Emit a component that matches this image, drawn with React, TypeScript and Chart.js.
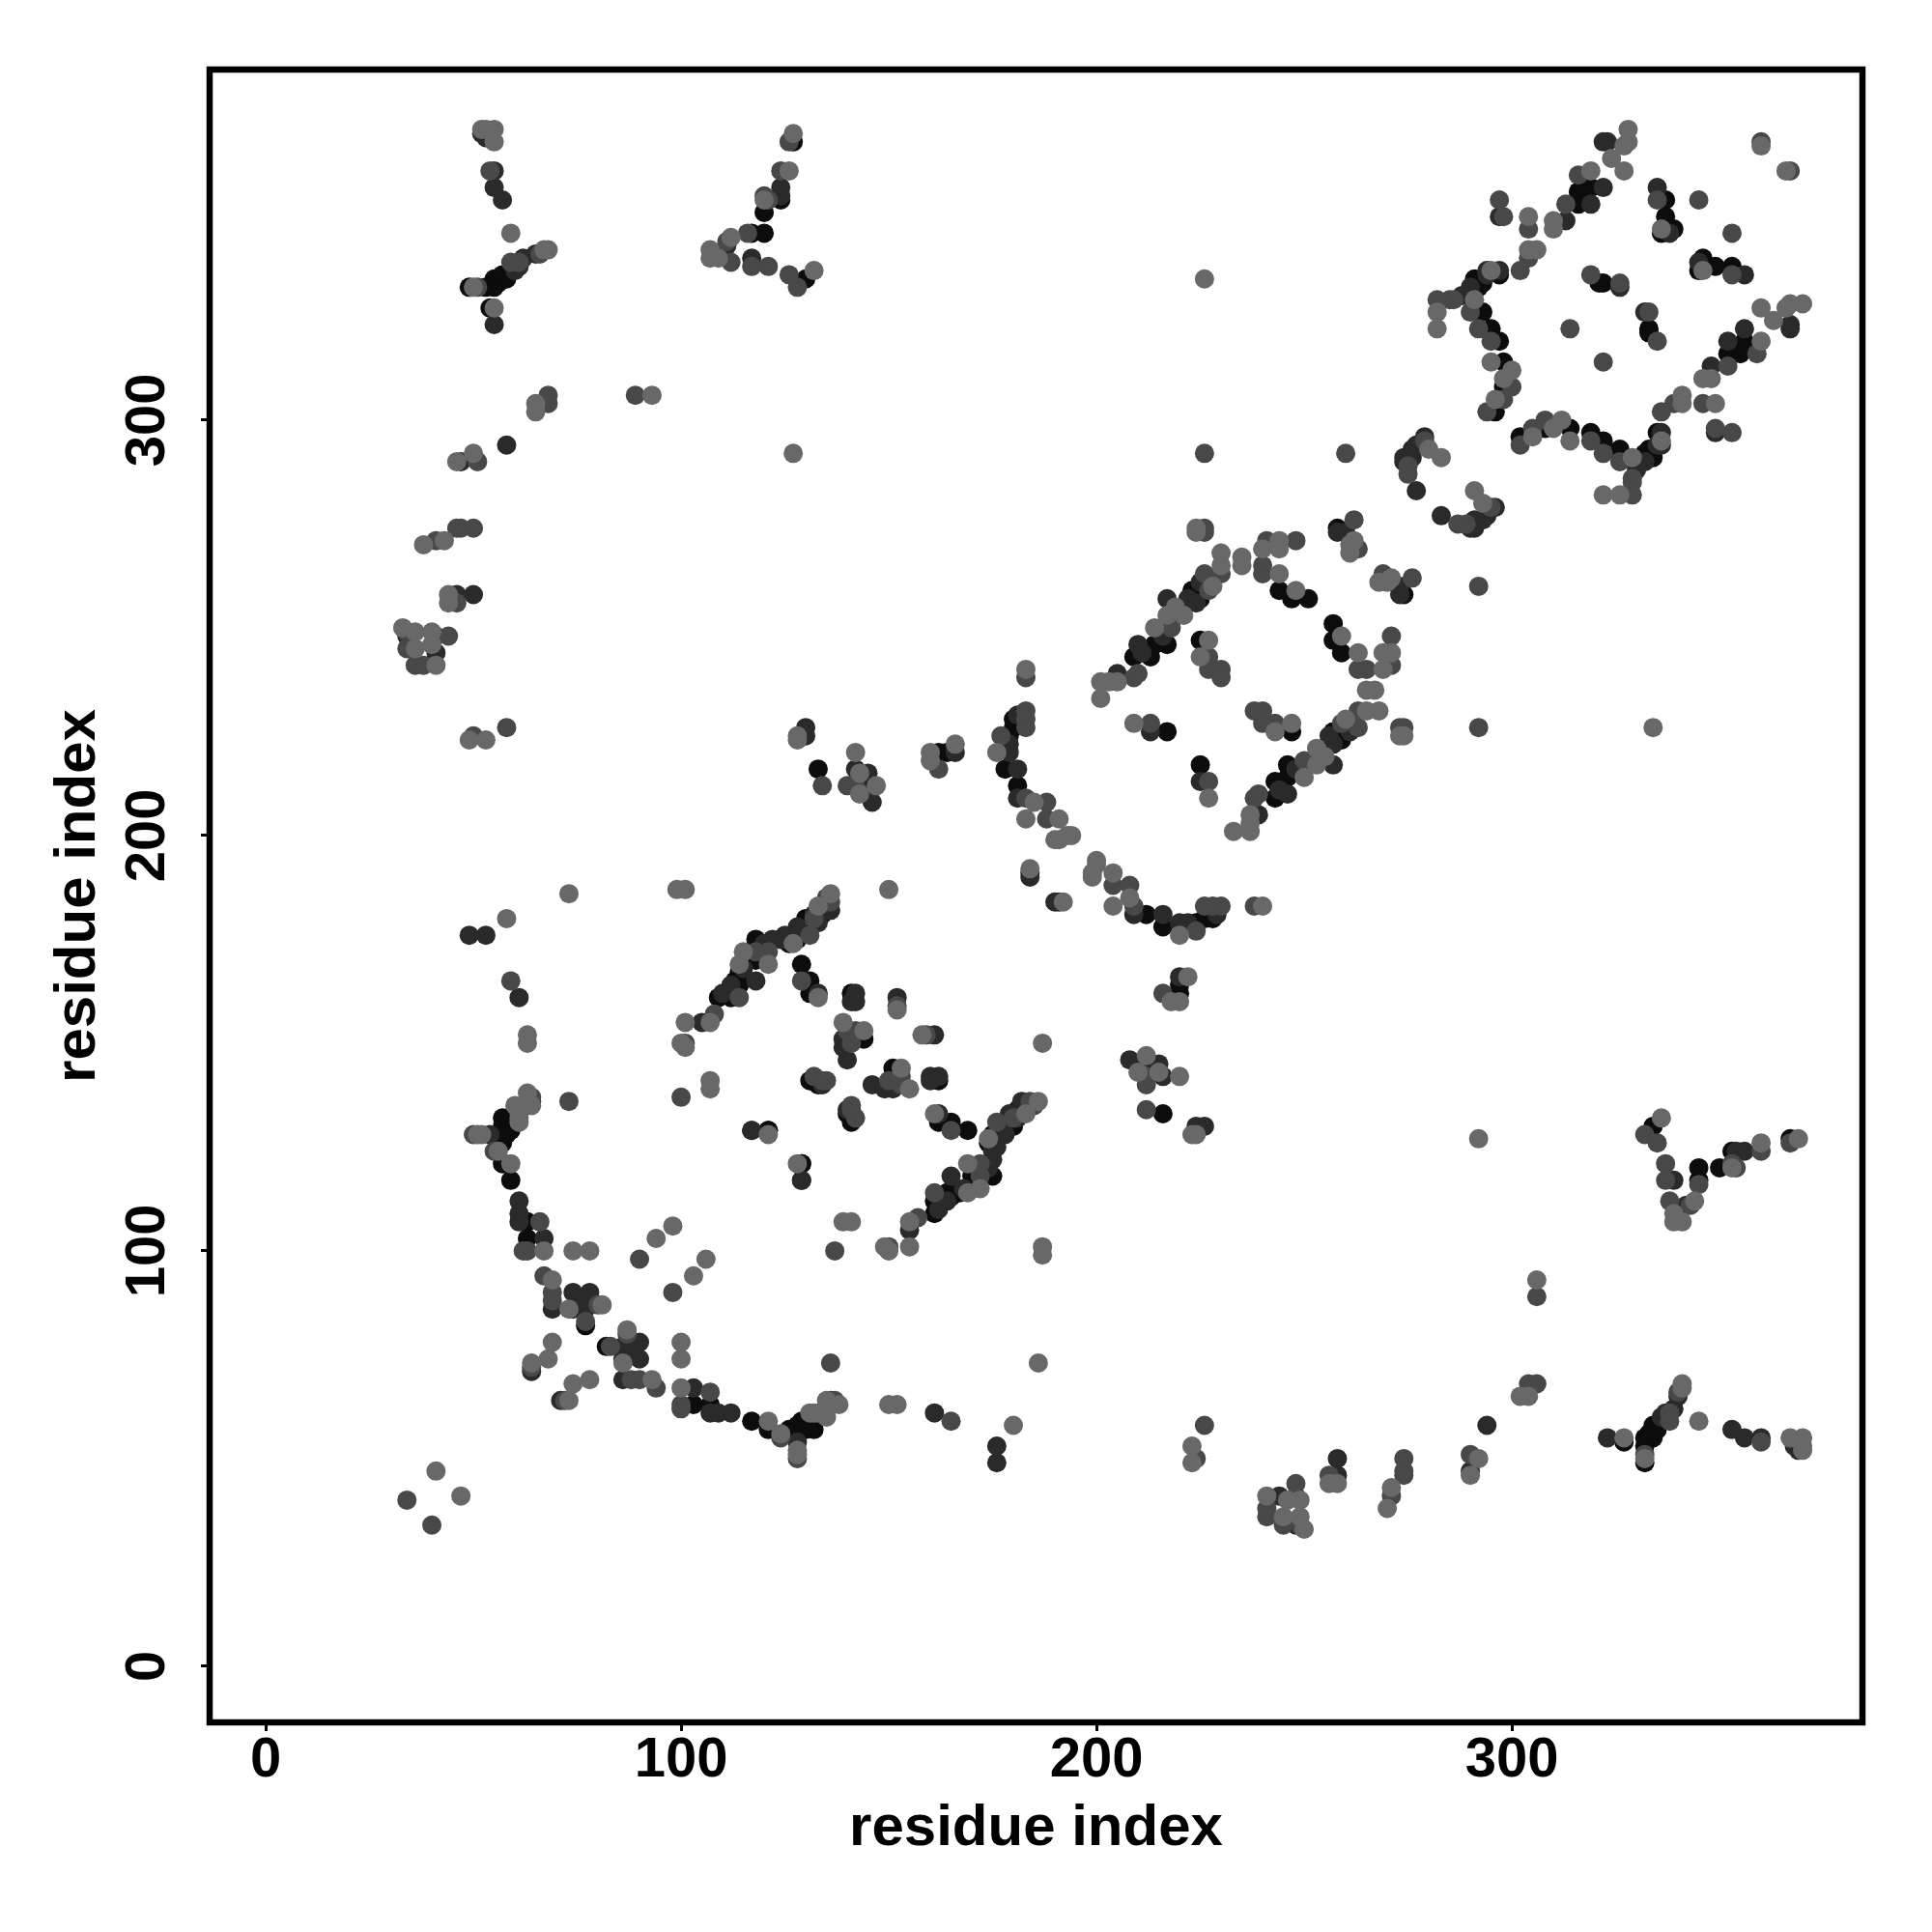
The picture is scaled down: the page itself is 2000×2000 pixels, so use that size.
import React, { useEffect, useRef } from "react";
import { Chart, registerables } from "chart.js";

Chart.register(...registerables);

const axisTitle = "residue index";
const tickValues = [0, 100, 200, 300];

// Contacts as [i, j] with i < j; the map is symmetric, each is also shown as [j, i].
const blackContacts: number[][] = [
  [58,334],[55,334],[55,332],[53,332],[49,332],[54,327],[127,367],[124,353],[120,350],[120,345],[117,345],[130,334],
  [57,132],[59,129],[57,130],[57,126],[57,121],[63,107],[63,103],[77,82],[56,126],[58,128],[58,131],[59,117],
  [134,181],[130,180],[131,178],[127,176],[128,175],[126,174],[118,175],[118,170],[114,167],[114,164],[109,161],[112,161],
  [129,169],[131,165],[131,162],[141,162],[144,151],[131,141],[133,140],[129,121],[121,129],[129,117],
  [133,216],[146,212],[162,220],[164,220],
  [180,226],[180,228],[179,224],[178,216],[181,212],[209,243],[213,243],[214,246],[217,246],[223,259],[225,257],[244,259],[247,257],[251,257],[225,247],[217,225],
  [258,274],
  [292,332],[291,334],[293,333],[297,335],[293,326],[295,322],[297,319],[298,314],[298,308],[296,302],[316,352],[316,355],[319,356],[322,333],[321,333],[337,353],[337,349],[339,346],[336,345],
  [56,333],[57,335],[59,336],[129,177],[116,171],[113,165],[224,258],[292,333],
];

const darkContacts: number[][] = [
  [52,369],[53,368],[55,360],[55,356],[57,353],[65,340],[60,336],[55,323],[124,356],[124,354],[117,339],[111,342],
  [58,294],[47,290],[50,258],[46,258],[41,244],[34,248],
  [49,176],[53,176],[61,161],[61,112],[61,109],[61,107],[67,103],[74,90],[78,90],[69,86],[77,88],[74,86],[77,86],[64,136],[54,128],[64,71],
  [136,182],[133,179],[128,177],[125,176],[122,175],[118,165],[112,164],[105,155],
  [133,162],[142,162],[142,160],[141,160],[152,161],[139,151],[140,146],[139,149],[134,140],
  [117,129],[130,226],[130,224],[142,216],[145,215],[143,211],[146,208],[166,220],
  [181,229],[179,222],[179,220],[181,216],[181,209],[205,239],[210,246],[217,257],[222,257],[225,261],[213,225],[184,191],[184,190],
  [274,291],[274,290],[276,293],[276,291],[277,294],[279,296],[277,283],[258,273],[260,273],
  [323,367],[322,367],[322,356],[319,352],[313,348],[297,336],[294,335],[290,332],[297,349],[335,356],[338,345],[326,332],
  [60,337],[61,337],[62,339],[128,178],[132,181],[124,175],[120,174],[115,168],[110,162],[216,248],[211,244],[224,256],[294,336],[288,330],
];

const midContacts: number[][] = [
  [54,360],[66,340],[61,338],[59,338],[51,332],[126,367],[124,360],[120,354],[121,353],[116,345],[111,343],[112,338],[117,337],[121,337],[126,335],[128,332],
  [68,306],[68,304],[51,290],[50,274],[46,274],[47,274],[41,271],[46,256],[44,248],[41,248],[34,249],[34,245],[36,241],[38,241],[58,226],[50,224],
  [64,137],[73,136],[100,137],[101,150],[89,306],[59,165],
  [55,124],[50,128],[66,107],[63,100],[62,100],[67,94],[69,90],[69,88],[80,87],[77,83],[64,72],[90,98],[34,40],
  [136,184],[135,185],[132,180],[131,176],[121,172],[118,172],[114,161],[108,157],[129,165],[142,153],[140,153],[141,150],[132,142],[134,141],[135,141],[152,159],
  [134,212],[140,212],[142,212],[162,216],
  [183,238],[183,230],[183,228],[177,224],[183,209],[188,208],[188,204],[209,238],[210,239],[218,250],[227,259],[226,263],[230,263],[240,265],[240,263],[241,271],[248,271],[227,243],[227,240],[230,240],[230,238],[213,227],[183,226],[226,273],[226,274],
  [260,292],[226,292],[279,295],[275,289],[275,287],[262,276],[263,269],
  [286,329],[285,329],[282,329],[290,326],[292,322],[295,319],[297,353],[298,349],[304,346],[304,339],[302,336],[316,359],[313,352],[319,335],[326,333],[335,353],[345,353],[300,308],[298,305],[294,302],[360,367],[314,322],
];

const lightContacts: number[][] = [
  [53,370],[52,370],[55,370],[55,367],[59,345],[68,341],[67,341],[50,332],[55,327],
  [127,369],[126,360],[120,353],[112,344],[107,341],[107,339],[109,339],[132,336],
  [65,304],[65,302],[50,292],[46,290],[43,271],[38,270],[44,258],[44,256],[40,249],[33,250],[36,249],[36,245],[41,241],[40,246],[53,223],[49,223],
  [58,180],[73,186],[63,152],[63,150],[63,138],
  [60,135],[61,133],[52,128],[51,128],[59,121],[67,100],[74,100],[78,100],[98,106],[94,103],[69,93],[81,87],[73,86],[69,78],[68,74],[64,73],[41,47],[56,124],[61,132],[61,131],[64,135],
  [99,187],[101,187],[150,187],[136,186],[133,183],[127,174],[115,172],[121,169],[114,169],[107,155],[101,155],[100,150],[101,149],[107,141],[107,139],
  [139,155],[144,153],[133,161],[152,158],[121,128],[127,292],[93,306],[128,224],[128,223],[142,220],[143,215],[147,212],[160,220],[160,218],[166,222],[143,210],
  [184,192],
  [183,240],[176,220],[185,208],[183,204],[191,204],[190,199],[191,199],[193,200],[194,200],[201,237],[201,233],[203,237],[205,237],[214,250],[217,253],[221,253],[219,255],[228,260],[230,268],[230,265],[235,265],[235,267],[244,263],[248,259],[240,269],[244,269],[244,271],[227,247],[225,243],[209,227],[224,273],[224,274],
  [226,334],[283,291],[280,293],[262,271],[261,268],[261,270],
  [328,370],[328,367],[327,366],[324,363],[327,360],[319,360],[310,348],[310,346],[304,349],[306,341],[304,341],[295,336],[282,326],[282,322],[291,329],[295,314],[300,312],[298,310],[296,305],[360,366],[336,346],
];

const mirrored = (pairs: number[][]) => [
  ...pairs.map(([i, j]) => ({ x: i, y: j })),
  ...pairs.map(([i, j]) => ({ x: j, y: i })),
];

const framePlugin = {
  id: "frame",
  afterDraw(chart: any) {
    const { left, top, right, bottom } = chart.chartArea;
    const ctx = chart.ctx;
    ctx.save();
    ctx.strokeStyle = "#000";
    ctx.lineWidth = 6.5;
    ctx.lineJoin = "miter";
    ctx.strokeRect(left, top, right - left, bottom - top);
    ctx.restore();
  },
};

export default function App() {
  const ref = useRef<HTMLCanvasElement>(null);
  useEffect(() => {
    const font = { family: "'Liberation Sans'", weight: "bold" as const };
    const axisBase = {
      type: "linear" as const,
      min: -13.5,
      max: 384.4,
      afterBuildTicks: (s: any) => { s.ticks = tickValues.map((value) => ({ value })); },
      grid: { drawOnChartArea: false, drawTicks: true, tickLength: 9, tickWidth: 3, tickColor: "#000" },
      border: { display: false },
    };
    const label = (v: any) => String(v);
    const chart = new Chart(ref.current!, {
      type: "scatter",
      data: {
        datasets: [
          { data: mirrored(lightContacts), backgroundColor: "#686868" },
          { data: mirrored(midContacts), backgroundColor: "#484848" },
          { data: mirrored(darkContacts), backgroundColor: "#2a2a2a" },
          { data: mirrored(blackContacts), backgroundColor: "#0c0c0c" },
        ],
      },
      options: {
        animation: false,
        responsive: false,
        devicePixelRatio: 1,
        layout: { padding: { left: 0, top: 72, right: 72, bottom: 0 } },
        elements: { point: { radius: 10, borderWidth: 0, hoverRadius: 10 } },
        plugins: { legend: { display: false }, tooltip: { enabled: false } },
        scales: {
          x: {
            ...axisBase,
            afterFit: (s: any) => { s.height = 217; },
            ticks: { callback: label, maxRotation: 0, minRotation: 0, padding: -4, color: "#000", font: { ...font, size: 58 } },
            title: { display: true, text: axisTitle, color: "#000", font: { ...font, size: 60 }, padding: { top: 0, bottom: 71 } },
          },
          y: {
            ...axisBase,
            afterFit: (s: any) => { s.width = 217; },
            ticks: { callback: label, minRotation: 90, maxRotation: 90, crossAlign: "center", padding: 6, color: "#000", font: { ...font, size: 58 } },
            title: { display: true, text: axisTitle, color: "#000", font: { ...font, size: 60 }, padding: { top: 45, bottom: 0 } },
          },
        },
      },
      plugins: [framePlugin],
    } as any);
    return () => chart.destroy();
  }, []);
  return (
    <canvas
      ref={ref}
      width={2000}
      height={2000}
      style={{ position: "absolute", left: 0, top: 0, width: 2000, height: 2000, background: "#fff" }}
    />
  );
}
